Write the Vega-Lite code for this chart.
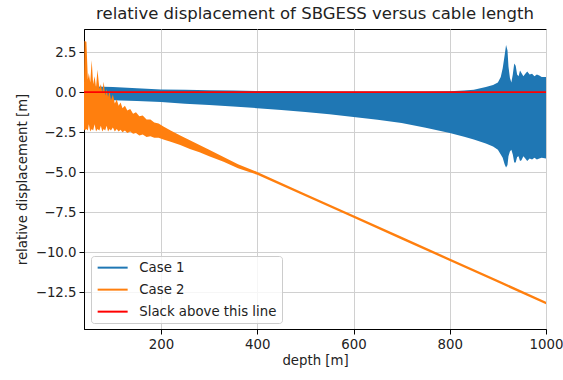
{
  "$schema": "https://vega.github.io/schema/vega-lite/v6.json",
  "width": 462,
  "height": 300,
  "autosize": "none",
  "padding": {"left": 84, "top": 29, "right": 17, "bottom": 51},
  "background": "white",
  "title": {"text": "relative displacement of SBGESS versus cable length", "fontSize": 16.5, "fontWeight": "normal", "color": "#222", "offset": 7, "anchor": "middle"},
  "config": {
    "font": "DejaVu Sans",
    "view": {"stroke": "#000", "strokeWidth": 1},
    "axis": {
      "domainColor": "#000", "tickColor": "#000", "tickSize": 5, "labelFontSize": 13.3, "labelColor": "#222",
      "titleFontSize": 13.3, "titleFontWeight": "normal", "titleColor": "#222", "gridColor": "#d0d0d0", "gridWidth": 1, "labelPadding": 3, "labelFlush": false
    },
    "legend": {"labelFontSize": 13.3, "labelColor": "#222"}
  },
  "data": {"values": [
    {"series": "Case 1", "depth": 40, "hi": 0.35, "lo": -0.40},
    {"series": "Case 1", "depth": 60, "hi": 0.36, "lo": -0.45},
    {"series": "Case 1", "depth": 100, "hi": 0.33, "lo": -0.50},
    {"series": "Case 1", "depth": 150, "hi": 0.25, "lo": -0.55},
    {"series": "Case 1", "depth": 200, "hi": 0.17, "lo": -0.62},
    {"series": "Case 1", "depth": 250, "hi": 0.15, "lo": -0.72},
    {"series": "Case 1", "depth": 300, "hi": 0.12, "lo": -0.80},
    {"series": "Case 1", "depth": 350, "hi": 0.10, "lo": -0.90},
    {"series": "Case 1", "depth": 400, "hi": 0.08, "lo": -1.00},
    {"series": "Case 1", "depth": 450, "hi": 0.07, "lo": -1.12},
    {"series": "Case 1", "depth": 500, "hi": 0.06, "lo": -1.24},
    {"series": "Case 1", "depth": 550, "hi": 0.05, "lo": -1.38},
    {"series": "Case 1", "depth": 600, "hi": 0.04, "lo": -1.55},
    {"series": "Case 1", "depth": 650, "hi": 0.04, "lo": -1.72},
    {"series": "Case 1", "depth": 700, "hi": 0.04, "lo": -1.92},
    {"series": "Case 1", "depth": 750, "hi": 0.05, "lo": -2.22},
    {"series": "Case 1", "depth": 800, "hi": 0.06, "lo": -2.55},
    {"series": "Case 1", "depth": 830, "hi": 0.10, "lo": -2.78},
    {"series": "Case 1", "depth": 850, "hi": 0.15, "lo": -2.95},
    {"series": "Case 1", "depth": 875, "hi": 0.32, "lo": -3.20},
    {"series": "Case 1", "depth": 890, "hi": 0.45, "lo": -3.40},
    {"series": "Case 1", "depth": 900, "hi": 0.60, "lo": -3.60},
    {"series": "Case 1", "depth": 906, "hi": 0.95, "lo": -3.90},
    {"series": "Case 1", "depth": 910, "hi": 1.50, "lo": -4.10},
    {"series": "Case 1", "depth": 914, "hi": 2.30, "lo": -4.50},
    {"series": "Case 1", "depth": 917, "hi": 2.95, "lo": -4.70},
    {"series": "Case 1", "depth": 920, "hi": 2.60, "lo": -4.55},
    {"series": "Case 1", "depth": 922, "hi": 1.60, "lo": -4.00},
    {"series": "Case 1", "depth": 925, "hi": 0.90, "lo": -3.70},
    {"series": "Case 1", "depth": 928, "hi": 0.60, "lo": -3.60},
    {"series": "Case 1", "depth": 931, "hi": 1.10, "lo": -3.90},
    {"series": "Case 1", "depth": 934, "hi": 1.80, "lo": -4.40},
    {"series": "Case 1", "depth": 937, "hi": 1.65, "lo": -4.40},
    {"series": "Case 1", "depth": 940, "hi": 1.10, "lo": -4.05},
    {"series": "Case 1", "depth": 943, "hi": 1.00, "lo": -4.00},
    {"series": "Case 1", "depth": 946, "hi": 1.35, "lo": -4.30},
    {"series": "Case 1", "depth": 949, "hi": 1.20, "lo": -4.25},
    {"series": "Case 1", "depth": 953, "hi": 1.00, "lo": -4.00},
    {"series": "Case 1", "depth": 957, "hi": 1.15, "lo": -4.15},
    {"series": "Case 1", "depth": 961, "hi": 1.30, "lo": -4.30},
    {"series": "Case 1", "depth": 966, "hi": 1.10, "lo": -4.15},
    {"series": "Case 1", "depth": 971, "hi": 1.15, "lo": -4.20},
    {"series": "Case 1", "depth": 976, "hi": 1.00, "lo": -4.10},
    {"series": "Case 1", "depth": 981, "hi": 1.10, "lo": -4.20},
    {"series": "Case 1", "depth": 986, "hi": 1.05, "lo": -4.15},
    {"series": "Case 1", "depth": 991, "hi": 0.95, "lo": -4.10},
    {"series": "Case 1", "depth": 1000, "hi": 0.95, "lo": -4.15},

    {"series": "Case 2", "depth": 40, "hi": 0.5, "lo": -2.3},
    {"series": "Case 2", "depth": 41, "hi": 3.2, "lo": -2.4},
    {"series": "Case 2", "depth": 45, "hi": 3.15, "lo": -2.3},
    {"series": "Case 2", "depth": 48, "hi": 0.8, "lo": -2.4},
    {"series": "Case 2", "depth": 50, "hi": 1.2, "lo": -2.0},
    {"series": "Case 2", "depth": 53, "hi": 0.6, "lo": -2.45},
    {"series": "Case 2", "depth": 56, "hi": 2.0, "lo": -2.3},
    {"series": "Case 2", "depth": 59, "hi": 0.5, "lo": -2.4},
    {"series": "Case 2", "depth": 62, "hi": 1.0, "lo": -2.0},
    {"series": "Case 2", "depth": 65, "hi": 0.3, "lo": -2.45},
    {"series": "Case 2", "depth": 68, "hi": 1.4, "lo": -2.3},
    {"series": "Case 2", "depth": 72, "hi": 0.2, "lo": -2.4},
    {"series": "Case 2", "depth": 75, "hi": 0.5, "lo": -2.1},
    {"series": "Case 2", "depth": 78, "hi": 0.0, "lo": -2.45},
    {"series": "Case 2", "depth": 81, "hi": 0.65, "lo": -2.3},
    {"series": "Case 2", "depth": 84, "hi": -0.2, "lo": -2.4},
    {"series": "Case 2", "depth": 87, "hi": 0.2, "lo": -2.1},
    {"series": "Case 2", "depth": 90, "hi": -0.3, "lo": -2.45},
    {"series": "Case 2", "depth": 93, "hi": 0.1, "lo": -2.3},
    {"series": "Case 2", "depth": 96, "hi": -0.5, "lo": -2.4},
    {"series": "Case 2", "depth": 100, "hi": -0.15, "lo": -2.2},
    {"series": "Case 2", "depth": 104, "hi": -0.7, "lo": -2.45},
    {"series": "Case 2", "depth": 108, "hi": -0.45, "lo": -2.3},
    {"series": "Case 2", "depth": 112, "hi": -0.85, "lo": -2.45},
    {"series": "Case 2", "depth": 116, "hi": -0.65, "lo": -2.35},
    {"series": "Case 2", "depth": 120, "hi": -1.0, "lo": -2.5},
    {"series": "Case 2", "depth": 125, "hi": -0.85, "lo": -2.4},
    {"series": "Case 2", "depth": 130, "hi": -1.15, "lo": -2.55},
    {"series": "Case 2", "depth": 136, "hi": -1.05, "lo": -2.45},
    {"series": "Case 2", "depth": 142, "hi": -1.35, "lo": -2.6},
    {"series": "Case 2", "depth": 148, "hi": -1.25, "lo": -2.55},
    {"series": "Case 2", "depth": 155, "hi": -1.5, "lo": -2.7},
    {"series": "Case 2", "depth": 162, "hi": -1.45, "lo": -2.65},
    {"series": "Case 2", "depth": 170, "hi": -1.7, "lo": -2.8},
    {"series": "Case 2", "depth": 178, "hi": -1.7, "lo": -2.75},
    {"series": "Case 2", "depth": 186, "hi": -1.9, "lo": -2.85},
    {"series": "Case 2", "depth": 195, "hi": -1.95, "lo": -2.85},
    {"series": "Case 2", "depth": 205, "hi": -2.15, "lo": -2.95},
    {"series": "Case 2", "depth": 220, "hi": -2.4, "lo": -3.1},
    {"series": "Case 2", "depth": 240, "hi": -2.7, "lo": -3.3},
    {"series": "Case 2", "depth": 260, "hi": -3.0, "lo": -3.55},
    {"series": "Case 2", "depth": 280, "hi": -3.3, "lo": -3.75},
    {"series": "Case 2", "depth": 300, "hi": -3.6, "lo": -4.0},
    {"series": "Case 2", "depth": 330, "hi": -4.05, "lo": -4.35},
    {"series": "Case 2", "depth": 360, "hi": -4.5, "lo": -4.75},
    {"series": "Case 2", "depth": 400, "hi": -4.98, "lo": -5.16},
    {"series": "Case 2", "depth": 500, "hi": -6.34, "lo": -6.5},
    {"series": "Case 2", "depth": 600, "hi": -7.69, "lo": -7.85},
    {"series": "Case 2", "depth": 700, "hi": -9.04, "lo": -9.2},
    {"series": "Case 2", "depth": 800, "hi": -10.39, "lo": -10.55},
    {"series": "Case 2", "depth": 900, "hi": -11.74, "lo": -11.9},
    {"series": "Case 2", "depth": 1000, "hi": -13.09, "lo": -13.25},

    {"series": "Slack above this line", "depth": 40, "hi": 0, "lo": 0},
    {"series": "Slack above this line", "depth": 1000, "hi": 0, "lo": 0}
  ]},
  "encoding": {
    "x": {"field": "depth", "type": "quantitative", "scale": {"domain": [40, 1000], "nice": false, "zero": false},
      "axis": {"title": "depth [m]", "values": [200, 400, 600, 800, 1000], "format": "d", "grid": true, "titlePadding": 3}},
    "color": {"field": "series", "type": "nominal",
      "scale": {"domain": ["Case 1", "Case 2", "Slack above this line"], "range": ["#1f77b4", "#ff7f0e", "#ff0000"]},
      "legend": {"title": null, "orient": "none", "legendX": 7, "legendY": 227, "fillColor": "rgba(255,255,255,0.8)", "strokeColor": "#cccccc", "cornerRadius": 3, "padding": 5,
        "symbolType": "M-1,0H5", "symbolSize": 100, "symbolStrokeWidth": 2, "labelOffset": 30, "rowPadding": 8,
        "encode": {"symbols": {"update": {"stroke": {"scale": "color", "field": "value"}, "fill": {"value": "transparent"}, "strokeWidth": {"value": 2}}}}}
    }
  },
  "layer": [
    {
      "transform": [{"filter": "datum.series === 'Case 1'"}],
      "mark": {"type": "area", "opacity": 1},
      "encoding": {
        "y": {"field": "hi", "type": "quantitative", "scale": {"domain": [-14.8, 3.95], "nice": false, "zero": false},
          "axis": {"title": "relative displacement [m]", "values": [-12.5, -10, -7.5, -5, -2.5, 0, 2.5], "format": ".1f", "grid": true, "titlePadding": 6}},
        "y2": {"field": "lo"}
      }
    },
    {
      "transform": [{"filter": "datum.series === 'Case 2'"}],
      "mark": {"type": "area", "opacity": 1},
      "encoding": {
        "y": {"field": "hi", "type": "quantitative"},
        "y2": {"field": "lo"}
      }
    },
    {
      "transform": [{"filter": "datum.series === 'Slack above this line'"}],
      "mark": {"type": "line", "strokeWidth": 1.8},
      "encoding": {
        "y": {"field": "hi", "type": "quantitative"}
      }
    }
  ]
}
